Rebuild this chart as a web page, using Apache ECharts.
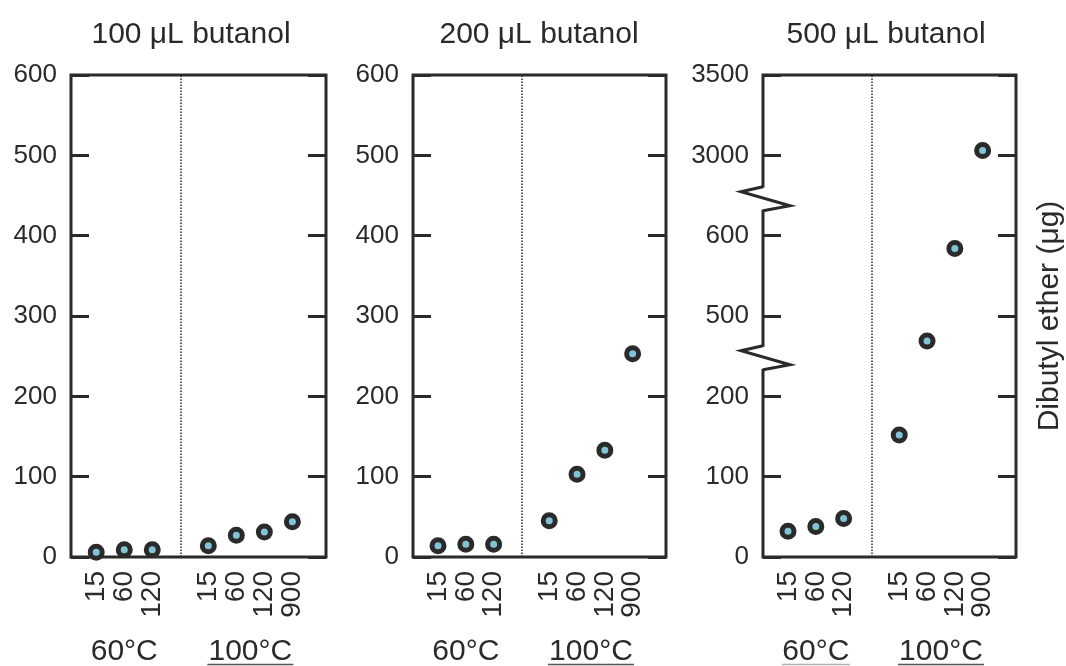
<!DOCTYPE html>
<html>
<head>
<meta charset="utf-8">
<script src="https://cdn.jsdelivr.net/npm/echarts@6/dist/echarts.min.js"></script>
<style>
  html, body { margin: 0; padding: 0; background: #ffffff; }
  #main { width: 1066px; height: 666px; }
</style>
</head>
<body>
<div id="main"></div>
<script>
// Panel titles and group labels
const panelTitles = ['100 \u03bcL butanol', '200 \u03bcL butanol', '500 \u03bcL butanol'];
const groupLabels = ['60\u00b0C', '100\u00b0C'];

// Reaction times (min) for each temperature group
const times60 = ['15', '60', '120'];
const times100 = ['15', '60', '120', '900'];

// Dibutyl ether (µg) per panel, 60 °C and 100 °C groups
const ether100uL_60 = [6, 9, 9];
const ether100uL_100 = [14, 27, 31, 44];
const ether200uL_60 = [14, 16, 16];
const ether200uL_100 = [45, 103, 133, 253];
const ether500uL_60 = [32, 38, 48];
const ether500uL_100 = [152, 469, 584, 3030];

// Y tick labels: plain axis and the broken axis of the 500 µL panel
const yTickLabels = ['0', '100', '200', '300', '400', '500', '600'];
const yTickLabelsBroken = ['0', '100', '200', '500', '600', '3000', '3500'];

const INK = '#2a2a2a';
const DOT = '#82c3d5';
const FONT = '"Liberation Sans", Arial, Helvetica, sans-serif';

// Slot positions on the x scale: 60 °C at 1..3, divider at 4, 100 °C at 5..8
const slots60 = [1, 2, 3];
const slots100 = [5, 6, 7, 8];
const dividerSlot = 4;
const xLabelBySlot = {};
slots60.forEach((s, i) => { xLabelBySlot[s] = times60[i]; });
slots100.forEach((s, i) => { xLabelBySlot[s] = times100[i]; });

// Broken-axis transform for the 500 µL panel:
// 0–200 at 100/tick, 500–600 at 100/tick, 3000–3500 at 500/tick
function brokenScale(v) {
  if (v < 350) return v;
  if (v < 1500) return 300 + (v - 500);
  return 500 + (v - 3000) / 5;
}

const panels = [
  { g60: ether100uL_60, g100: ether100uL_100, map: v => v, ticks: yTickLabels },
  { g60: ether200uL_60, g100: ether200uL_100, map: v => v, ticks: yTickLabels },
  { g60: ether500uL_60, g100: ether500uL_100, map: brokenScale, ticks: yTickLabelsBroken }
];

const gridBoxes = [
  { left: 71, width: 255 },
  { left: 413, width: 253 },
  { left: 763, width: 254 }
];
const titleCenters = [186, 534, 881];

const grids = gridBoxes.map(b => ({
  left: b.left, width: b.width, top: 75, height: 482,
  show: true, borderColor: INK, borderWidth: 3, containLabel: false
}));

const xAxes = gridBoxes.map((b, i) => ({
  type: 'value', gridIndex: i, min: 0.1, max: 9.2,
  axisLine: { show: false },
  axisTick: { show: false },
  splitLine: { show: false },
  axisLabel: {
    customValues: slots60.concat(slots100),
    formatter: v => xLabelBySlot[Math.round(v)] || '',
    hideOverlap: false, showMinLabel: true, showMaxLabel: true,
    rotate: 90, margin: 14,
    color: INK, fontSize: 28, fontFamily: FONT
  }
}));

const yAxes = [];
panels.forEach((p, i) => {
  const tickLabels = p.ticks;
  yAxes.push({
    type: 'value', gridIndex: i, position: 'left',
    min: 0, max: 600, interval: 100,
    axisLine: { show: false },
    axisTick: { show: true, inside: true, length: 18, lineStyle: { color: INK, width: 3 } },
    splitLine: { show: false },
    axisLabel: {
      formatter: v => tickLabels[Math.round(v / 100)],
      hideOverlap: false, showMinLabel: true, showMaxLabel: true,
      margin: 14, color: INK, fontSize: 26, fontFamily: FONT
    }
  });
  yAxes.push({
    type: 'value', gridIndex: i, position: 'right',
    min: 0, max: 600, interval: 100,
    axisLine: { show: false },
    axisTick: { show: true, inside: true, length: 18, lineStyle: { color: INK, width: 3 } },
    splitLine: { show: false },
    axisLabel: { show: false },
    name: i === 2 ? 'Dibutyl ether (\u03bcg)' : '',
    nameLocation: 'middle', nameRotate: 90, nameGap: 19,
    nameTextStyle: { color: INK, fontSize: 30, fontFamily: FONT }
  });
});

const series = [];
panels.forEach((p, i) => {
  const pts = slots60.map((s, k) => [s, p.map(p.g60[k])])
    .concat(slots100.map((s, k) => [s, p.map(p.g100[k])]));
  series.push({
    type: 'scatter', xAxisIndex: i, yAxisIndex: i * 2,
    data: pts, symbol: 'circle', symbolSize: 12,
    itemStyle: { color: DOT, borderColor: INK, borderWidth: 5, opacity: 1 },
    z: 5,
    markLine: {
      silent: true, symbol: 'none', animation: false,
      label: { show: false },
      lineStyle: { type: 'dotted', color: INK, width: 1.5 },
      data: [{ xAxis: dividerSlot }]
    }
  });
});

const chart = echarts.init(document.getElementById('main'));
chart.setOption({
  animation: false,
  backgroundColor: '#ffffff',
  title: panelTitles.map((t, i) => ({
    text: t, left: titleCenters[i], top: 15, textAlign: 'center',
    textStyle: { color: INK, fontSize: 30, fontWeight: 'normal', fontFamily: FONT }
  })),
  grid: grids,
  xAxis: xAxes,
  yAxis: yAxes,
  series: series
});

// Decorations: group labels with underlines and axis-break marks
const graphics = [];
panels.forEach((p, i) => {
  const c60 = chart.convertToPixel({ gridIndex: i }, [2, 0]);
  const c100 = chart.convertToPixel({ gridIndex: i }, [6.5, 0]);
  [[c60[0], groupLabels[0]], [c100[0], groupLabels[1]]].forEach(([cx, txt], k) => {
    graphics.push({
      type: 'text', x: cx, y: 652, z: 100,
      style: { text: txt, fill: INK, fontSize: 30, fontFamily: FONT, textAlign: 'center', textVerticalAlign: 'middle' }
    });
    const underline = k === 1 || i === 2;
    if (underline) {
      const half = k === 1 ? 43 : 34;
      graphics.push({
        type: 'line', z: 100,
        shape: { x1: cx - half, y1: 664.5, x2: cx + half, y2: 664.5 },
        style: { stroke: k === 1 ? '#555555' : '#b0b0b0', lineWidth: 1.5 }
      });
    }
  });
});

// Zigzag breaks on the left axis of the 500 µL panel
[248, 446].forEach(v => {
  const pt = chart.convertToPixel({ gridIndex: 2 }, [0.1, v]);
  const ax = pt[0], cy = pt[1];
  graphics.push({
    type: 'rect', z: 100,
    shape: { x: ax - 4, y: cy - 11, width: 8, height: 22 },
    style: { fill: '#ffffff' }
  });
  graphics.push({
    type: 'polyline', z: 101,
    shape: { points: [[ax, cy - 12], [ax - 22, cy - 7], [ax + 27, cy + 7], [ax, cy + 12]] },
    style: { stroke: INK, lineWidth: 3, fill: null, lineJoin: 'miter' }
  });
});

chart.setOption({ graphic: graphics });
</script>
</body>
</html>
